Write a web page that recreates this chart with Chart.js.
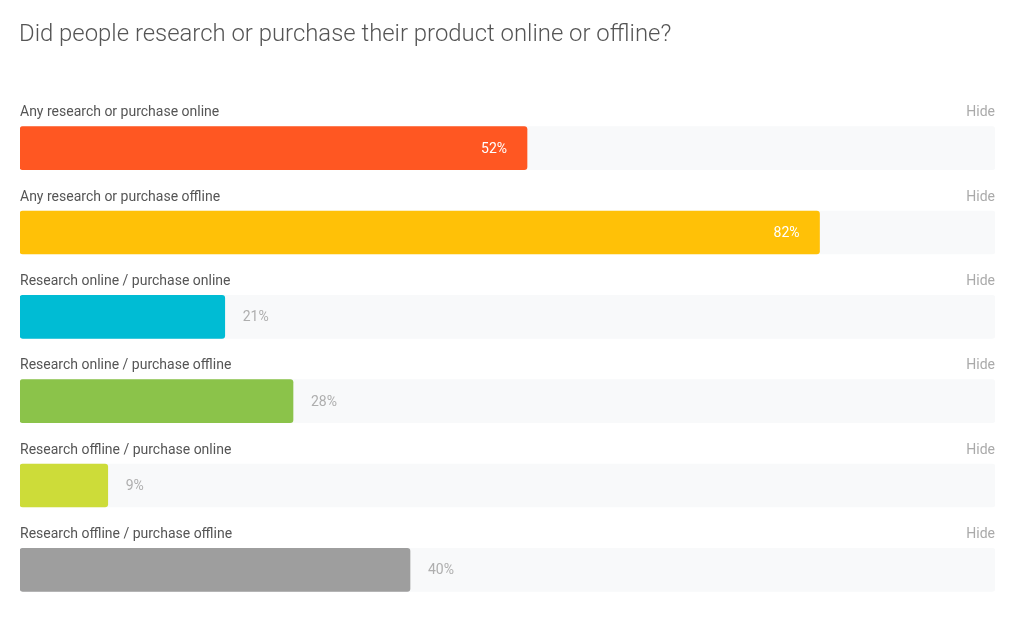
<!DOCTYPE html>
<html>
<head>
<meta charset="utf-8">
<script src="https://cdn.jsdelivr.net/npm/chart.js@4"></script>
<style>
html,body{margin:0;padding:0;background:#fff;}
#wrap{position:relative;width:1024px;height:619px;}
</style>
</head>
<body>
<div id="wrap"><canvas id="c" width="1024" height="619"></canvas></div>
<script>
const title = "Did people research or purchase their product online or offline?";
const categories = [
  "Any research or purchase online",
  "Any research or purchase offline",
  "Research online / purchase online",
  "Research online / purchase offline",
  "Research offline / purchase online",
  "Research offline / purchase offline"
];
const values = [52, 82, 21, 28, 9, 40];
const trackMax = 100;
const actionLabel = "Hide";
const barColors = ["#FF5722", "#FFC107", "#00BCD4", "#8BC34A", "#CDDC39", "#9E9E9E"];

const overlayPlugin = {
  id: 'overlay',
  afterDatasetsDraw(chart) {
    const ctx = chart.ctx;
    const area = chart.chartArea;
    const meta = chart.getDatasetMeta(0);
    ctx.save();
    // title
    ctx.font = '300 23.9px Roboto';
    ctx.fillStyle = '#555555';
    ctx.textAlign = 'left';
    ctx.textBaseline = 'middle';
    ctx.fillText(title, 19, 35);
    meta.data.forEach((bar, i) => {
      const top = bar.y - bar.height / 2;
      ctx.font = '400 14px Roboto';
      ctx.fillStyle = '#555555';
      ctx.textAlign = 'left';
      ctx.textBaseline = 'middle';
      ctx.fillText(categories[i], area.left, top - 14);
      ctx.fillStyle = '#AAAAAA';
      ctx.textAlign = 'right';
      ctx.fillText(actionLabel, area.right, top - 14);
      ctx.font = '400 14px Roboto';
      const txt = values[i] + '%';
      if (values[i] > 50) {
        ctx.fillStyle = '#FFFFFF';
        ctx.textAlign = 'right';
        ctx.fillText(txt, bar.x - 20, bar.y + 1);
      } else {
        ctx.fillStyle = '#AEAEAE';
        ctx.textAlign = 'left';
        ctx.fillText(txt, bar.x + 18, bar.y + 1);
      }
    });
    ctx.restore();
  }
};

new Chart(document.getElementById('c'), {
  type: 'bar',
  data: {
    labels: categories,
    datasets: [
      {
        data: values,
        backgroundColor: barColors,
        borderRadius: 3,
        borderSkipped: false,
        barThickness: 43,
        order: 0
      },
      {
        data: categories.map(() => trackMax),
        backgroundColor: '#F8F9FA',
        borderRadius: 3,
        borderSkipped: false,
        barThickness: 43,
        order: 1
      }
    ]
  },
  options: {
    indexAxis: 'y',
    responsive: false,
    animation: false,
    events: [],
    datasets: { bar: { grouped: false } },
    layout: { padding: { left: 20, right: 29, top: 106, bottom: 7 } },
    scales: {
      x: { display: false, min: 0, max: trackMax },
      y: { display: false }
    },
    plugins: { legend: { display: false }, tooltip: { enabled: false }, title: { display: false } }
  },
  plugins: [overlayPlugin]
});
</script>
</body>
</html>
